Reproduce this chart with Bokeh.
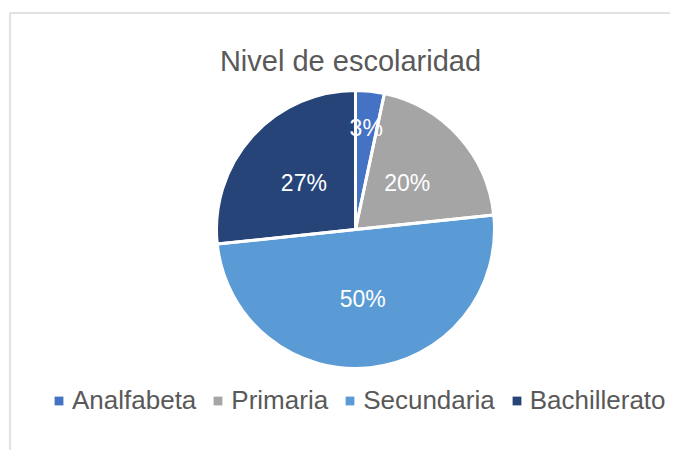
import numpy as np
from bokeh.plotting import figure
from bokeh.models import Range1d, Legend, LegendItem
from bokeh.core.properties import value
from bokeh.embed import file_html
from bokeh.resources import INLINE

# ---- data ----
categories = ["Analfabeta", "Primaria", "Secundaria", "Bachillerato"]
counts = [1, 6, 15, 8]
colors = ["#4472C4", "#A5A5A5", "#5B9BD5", "#264478"]
title_text = "Nivel de escolaridad"

# ---- layout (page pixel coordinates, y measured upward from page bottom) ----
W, H = 670, 450
p = figure(width=W, height=H, x_range=Range1d(0, 670), y_range=Range1d(8, 458),
           output_backend="svg", toolbar_location=None, min_border=0,
           x_axis_location=None, y_axis_location=None)
p.grid.visible = False
p.outline_line_color = None
p.background_fill_color = "white"
p.border_fill_color = "white"

# chart-area border (left and top edges visible)
p.line(x=[9.5, 9.5, 700], y=[-20, 445.5, 445.5], line_color="#D9D9D9", line_width=1.5)

cx, cy, r = 355, 229, 139
vals = np.array(counts, dtype=float)
share = vals / vals.sum()
cum = np.cumsum(share)
start = np.pi / 2 - 2 * np.pi * (cum - share)
end = np.pi / 2 - 2 * np.pi * cum

src = dict(start=start, end=end, color=colors, cat=categories)
wr = p.wedge(x=cx, y=cy, radius=r, start_angle="start", end_angle="end",
             direction="clock", fill_color="color", line_color=None, source=src)
p.wedge(x=cx, y=cy, radius=r, start_angle=start, end_angle=end,
        direction="clock", fill_color=None, line_color="white", line_width=3)

mid = np.pi / 2 - 2 * np.pi * (cum - share / 2)
factor = np.where(share < 0.1, 0.737, 0.5)
lx = cx + factor * r * np.cos(mid)
ly = cy + factor * r * np.sin(mid)
labels = [f"{round(s * 100)}%" for s in share]
p.text(x=lx, y=ly, text=labels, text_align="center", text_baseline="middle",
       text_font=value("Liberation Sans"), text_font_size="23px", text_color="white")

p.text(x=[350], y=[398], text=[title_text], text_align="center", text_baseline="alphabetic",
       text_font=value("Liberation Sans"), text_font_size="29px", text_color="#595959")

legend = Legend(items=[LegendItem(label=c, renderers=[wr], index=i) for i, c in enumerate(categories)],
                orientation="horizontal", location=(53, 34), glyph_width=11, glyph_height=11,
                label_standoff=8, spacing=16, padding=0, margin=0,
                border_line_color=None, background_fill_alpha=0,
                label_text_font="Liberation Sans", label_text_font_size="26px",
                label_text_color="#595959")
p.add_layout(legend)

open("out.html", "w").write(file_html(p, INLINE))
